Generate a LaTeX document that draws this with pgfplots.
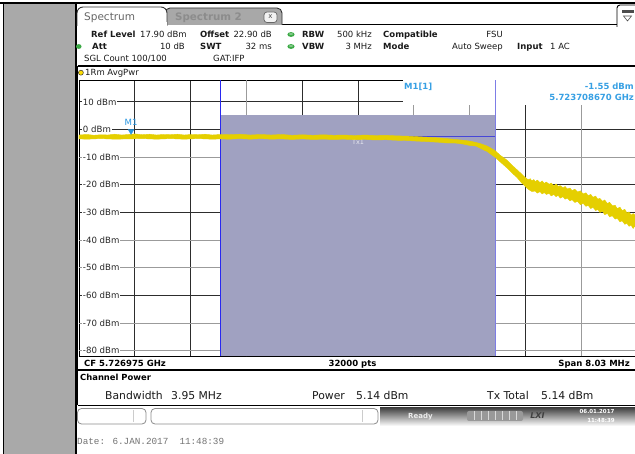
\documentclass[border=0pt]{standalone}
\usepackage{pgfplots}
\pgfplotsset{compat=1.18}
\usepackage{fontspec}
\setmainfont{DejaVu Sans}
\newfontfamily\monof{Liberation Mono}
\definecolor{panelgray}{RGB}{169,169,169}
\definecolor{tabgray}{RGB}{168,168,168}
\definecolor{chanfill}{RGB}{160,161,193}
\definecolor{traceyel}{RGB}{229,207,0}
\definecolor{mkblue}{RGB}{40,150,225}
\definecolor{txtblue}{RGB}{55,160,228}
\definecolor{chanblueL}{RGB}{40,40,240}
\definecolor{chanblueR}{RGB}{125,125,230}
\definecolor{chanblueH}{RGB}{70,70,215}
\definecolor{gridd}{RGB}{45,45,45}
\definecolor{gridl}{RGB}{155,155,155}
\definecolor{hdrtxt}{RGB}{26,26,26}
\definecolor{dotgreen}{RGB}{60,170,70}
\newcommand{\hs}{\fontsize{8.5}{10}\selectfont}
\newcommand{\lab}{\fontsize{8.6}{10}\selectfont}
\begin{document}
\begin{tikzpicture}
\begin{scope}[x=1pt,y=-1pt]
  \fill[white] (0,0) rectangle (635,454);
  \fill[panelgray] (4,4) rectangle (75.5,454);
  \draw[black,line width=1.2pt] (3.6,3) -- (3.6,454);
  \draw[black,line width=1.5pt] (0,3) -- (635,3);
  \draw[black,line width=1.6pt] (76.2,3) -- (76.2,454);
  % tabs
  \draw[line width=1.2pt,black] (165,24.8) -- (617,24.8);
  \filldraw[fill=tabgray,draw=black!80,line width=0.9pt,rounded corners=5pt] (165,25) -- (165,8) -- (282,8) -- (282,25);
  \filldraw[fill=white,draw=black!80,line width=0.9pt,rounded corners=6pt] (77,26) -- (77,7) -- (167,7) -- (167,26);
  \fill[white] (77.5,22) rectangle (166.5,27);
  \node[anchor=base west,inner sep=0,text=black!60] at (84,20.4) {\fontsize{10.5}{12}\selectfont Spectrum};
  \node[anchor=base west,inner sep=0,text=black!45] at (175,20.4) {\fontsize{10.3}{12}\selectfont\bfseries Spectrum 2};
  \filldraw[fill=white!90!gray,draw=black!60,line width=0.7pt,rounded corners=3pt] (264,12) rectangle (277,22.5);
  \node[inner sep=0,text=black!70] at (270.5,16.8) {\fontsize{7}{8}\selectfont x};
  % top right icon
  \filldraw[fill=white,draw=black,line width=0.9pt,rounded corners=3pt] (617,27) -- (617,5) -- (640,5) -- (640,27);
  \fill[black!70] (622,10) rectangle (634,13);
  \draw[black!70,line width=0.6pt] (623.5,16) -- (631.5,16) -- (627.5,21) -- cycle;
  % header rows
  \begin{scope}[every node/.style={anchor=base west,inner sep=0,text=hdrtxt}]
  \node at (91,37.6) {\hs\bfseries Ref Level};
  \node at (140,37.6) {\hs 17.90 dBm};
  \node at (200,37.6) {\hs\bfseries Offset};
  \node[anchor=base east] at (272,37.6) {\hs 22.90 dB};
  \node at (302,37.6) {\hs\bfseries RBW};
  \node[anchor=base east] at (372,37.6) {\hs 500 kHz};
  \node at (383,37.6) {\hs\bfseries Compatible};
  \node[anchor=base east] at (503,37.6) {\hs FSU};
  \node at (92,49.6) {\hs\bfseries Att};
  \node[anchor=base east] at (185,49.6) {\hs 10 dB};
  \node at (200,49.6) {\hs\bfseries SWT};
  \node[anchor=base east] at (272,49.6) {\hs 32 ms};
  \node at (302,49.6) {\hs\bfseries VBW};
  \node[anchor=base east] at (372,49.6) {\hs 3 MHz};
  \node at (383,49.6) {\hs\bfseries Mode};
  \node[anchor=base east] at (503,49.6) {\hs Auto Sweep};
  \node at (517,49.6) {\hs\bfseries Input};
  \node at (550,49.6) {\hs 1 AC};
  \node at (84,61.6) {\hs SGL Count 100/100};
  \node at (213,61.6) {\hs GAT:IFP};
  \node at (85,75.8) {\hs 1Rm AvgPwr};
  \end{scope}
  \fill[dotgreen] (291,34.5) ellipse (3.6 and 2.4);
  \fill[dotgreen] (291,46.5) ellipse (3.6 and 2.4);
  \fill[dotgreen] (78.8,46.5) ellipse (2.8 and 2.4);
  \fill[white,opacity=0.35] (291,34) ellipse (2 and 1);
  \fill[white,opacity=0.35] (291,46) ellipse (2 and 1);
  % trace window
  \draw[black,line width=1.3pt] (77.5,66) -- (640,66);
  \draw[black,line width=1pt] (77.8,66) -- (77.8,405.5);
  \draw[black!80,fill=yellow!80!orange,line width=0.5pt] (80.9,72.7) circle (2.5);
  \draw[black,line width=1.5pt] (77.5,370) -- (640,370);
  \draw[black,line width=1.5pt] (77.5,405.5) -- (640,405.5);
  % CF row
  \node[anchor=base west,inner sep=0] at (84,366.4) {\hs\bfseries CF 5.726975 GHz};
  \node[anchor=base,inner sep=0] at (352.5,366.4) {\hs\bfseries 32000 pts};
  \node[anchor=base east,inner sep=0] at (630,366.4) {\hs\bfseries Span 8.03 MHz};
  % channel power
  \node[anchor=base west,inner sep=0] at (80,380.8) {\fontsize{8.4}{10}\selectfont\bfseries Channel Power};
  \begin{scope}[every node/.style={anchor=base west,inner sep=0,text=hdrtxt}]
  \node at (105,399.8) {\fontsize{10.8}{12}\selectfont Bandwidth};
  \node at (171,399.8) {\fontsize{10.8}{12}\selectfont 3.95 MHz};
  \node at (312,399.8) {\fontsize{10.8}{12}\selectfont Power};
  \node at (356,399.8) {\fontsize{10.8}{12}\selectfont 5.14 dBm};
  \node at (487,399.8) {\fontsize{10.8}{12}\selectfont Tx Total};
  \node at (541,399.8) {\fontsize{10.8}{12}\selectfont 5.14 dBm};
  \end{scope}
  % status bar
  \shade[top color=black!75,bottom color=white] (380,407.5) rectangle (635,426);
  \filldraw[fill=white,draw=black!45,line width=0.8pt,rounded corners=4pt] (77.5,408.5) rectangle (146,424);
  \draw[black!20] (133,410) -- (133,422);
  \filldraw[fill=white,draw=black!45,line width=0.8pt,rounded corners=4pt] (151,408.5) rectangle (378,424);
  \draw[black!20] (362,410) -- (362,422);
  \node[anchor=base west,inner sep=0,text=white!85!gray] at (408,419) {\fontsize{7}{8}\selectfont\bfseries Ready};
  \fill[black!40,rounded corners=2pt] (467,411) rectangle (523,421);
  \foreach \xx in {474,481,488,495,502,509,516} {\draw[white!70!gray,line width=0.6pt] (\xx,411.5) -- (\xx,420.5);}
  \node[inner sep=0,text=black!75] at (537.5,416) {\fontsize{8}{9}\selectfont\bfseries\itshape LXI};
  \node[inner sep=0,text=white] at (597,411.5) {\fontsize{5.5}{6}\selectfont\bfseries 06.01.2017};
  \node[inner sep=0,text=white] at (601,420) {\fontsize{5.5}{6}\selectfont\bfseries 11:48:39};
  % date line
  \node[anchor=base west,inner sep=0,text=black!55] at (77,444.7) {\fontsize{9.3}{11}\selectfont\monof Date: 6.JAN.2017\ \ 11:48:39};
\end{scope}

\begin{axis}[at={(79pt,-356.5pt)}, anchor=south west, scale only axis,
  width=558pt, height=276.5pt,
  xmin=-4.015, xmax=4.015, ymin=-82.1, ymax=17.9,
  axis line style={black,line width=0.9pt},
  xtick={-3.212,-2.409,-0.803,0,2.409}, ytick={10,0,-20,-30,-60},
  extra x ticks={-1.606,0.803,1.606,3.212}, extra y ticks={-10,-40,-50,-70,-80},
  xticklabels={}, yticklabels={}, extra x tick labels={}, extra y tick labels={},
  major tick length=0pt, grid=major,
  major grid style={draw=gridd,line width=0.8pt},
  extra tick style={grid=major, major grid style={draw=gridl,line width=0.9pt}},
]
% level labels
\pgfplotsinvokeforeach{10,0,-10,-20,-30,-40,-50,-60,-70,-80}{
  \node[anchor=west,fill=white,inner xsep=1pt,inner ysep=0.3pt,text=black!85] at (axis cs:-3.975,#1) {\lab #1 dBm};
}
% channel bandwidth area
\addplot[fill=chanfill,draw=none] coordinates {(-1.975,-82.1) (-1.975,5.14) (1.975,5.14) (1.975,-82.1)} -- cycle;
% marker info area
\fill[white] (axis cs:0.647,9.0) rectangle (axis cs:4.2,18);
\addplot[chanblueL,line width=1pt] coordinates {(-1.975,-82.1) (-1.975,17.9)};
\addplot[chanblueR,line width=1pt] coordinates {(1.975,-82.1) (1.975,17.9)};
\addplot[chanblueH,line width=0.9pt] coordinates {(-1.975,-2.34) (1.975,-2.34)};
\node[text=white!75!chanfill] at (axis cs:0.0,-4.6) {\fontsize{6.5}{7}\selectfont Tx1};
% trace (noise envelope: upper edge left to right, lower edge right to left)
\addplot[fill=traceyel,draw=traceyel,line width=0.4pt] coordinates {
(-4.015,-2.0) (-3.90,-1.8) (-3.80,-2.1) (-3.70,-1.9) (-3.60,-2.0) (-3.50,-1.7)
(-3.40,-2.0) (-3.30,-1.8) (-3.209,-1.6) (-3.10,-1.9) (-3.00,-1.7) (-2.90,-2.0)
(-2.80,-1.8) (-2.70,-1.9) (-2.60,-1.7) (-2.50,-2.0) (-2.40,-1.8) (-2.30,-1.9)
(-2.20,-1.7) (-2.10,-2.0) (-1.971,-1.8) (-1.85,-1.9) (-1.70,-1.7) (-1.55,-2.0)
(-1.40,-1.8) (-1.25,-2.0) (-1.10,-1.8) (-0.95,-2.1) (-0.80,-1.9) (-0.65,-2.1)
(-0.50,-1.9) (-0.35,-2.1) (-0.20,-2.0) (-0.05,-2.2) (0.10,-2.0) (0.25,-2.2)
(0.40,-2.1) (0.55,-2.3) (0.70,-2.4) (0.85,-2.6) (1.00,-2.8) (1.15,-3.0)
(1.28,-3.3) (1.40,-3.6) (1.52,-3.9) (1.61,-4.2) (1.70,-4.7) (1.76,-5.1)
(1.86,-6.0) (1.97,-7.6) (2.05,-9.4) (2.14,-11.0) (2.22,-13.0) (2.29,-14.6)
(2.35,-16.0) (2.40,-17.2) (2.45,-18.2) (2.48,-17.8) (2.50,-18.6) (2.53,-18.1)
(2.55,-18.9) (2.58,-18.3) (2.62,-19.2) (2.65,-18.6) (2.68,-19.5) (2.71,-19.0)
(2.75,-19.8) (2.78,-19.4) (2.82,-20.4) (2.85,-19.7) (2.88,-20.6) (2.91,-20.3)
(2.95,-21.1) (2.98,-20.6) (3.01,-21.5) (3.05,-21.2) (3.08,-22.1) (3.12,-21.6)
(3.16,-22.6) (3.20,-22.2) (3.24,-23.3) (3.28,-22.9) (3.31,-23.9) (3.35,-23.5)
(3.38,-24.5) (3.42,-24.1) (3.45,-25.2) (3.48,-24.9) (3.52,-26.0) (3.55,-25.5)
(3.59,-26.8) (3.62,-26.3) (3.66,-27.6) (3.70,-27.4) (3.73,-28.6) (3.77,-28.1)
(3.80,-29.3) (3.84,-28.9) (3.87,-30.2) (3.90,-29.8) (3.93,-31.0) (3.96,-30.4)
(4.015,-31.5)
(4.015,-35.9) (3.98,-35.0) (3.96,-35.8) (3.93,-34.6) (3.90,-35.0) (3.87,-33.9)
(3.84,-34.3) (3.80,-33.0) (3.77,-33.4) (3.73,-32.1) (3.70,-32.4) (3.66,-31.2)
(3.62,-31.6) (3.59,-30.4) (3.55,-30.8) (3.52,-29.6) (3.48,-30.0) (3.45,-28.9)
(3.42,-29.3) (3.38,-28.1) (3.35,-28.6) (3.31,-27.4) (3.28,-27.8) (3.24,-26.7)
(3.20,-27.2) (3.16,-26.0) (3.12,-26.4) (3.08,-25.4) (3.05,-25.8) (3.01,-24.8)
(2.98,-25.2) (2.95,-24.3) (2.91,-24.8) (2.88,-23.8) (2.85,-24.3) (2.82,-23.5)
(2.78,-24.0) (2.75,-23.1) (2.71,-23.5) (2.68,-22.8) (2.65,-23.3) (2.62,-22.5)
(2.58,-23.0) (2.55,-22.3) (2.50,-22.4) (2.45,-21.6)
(2.40,-20.4) (2.35,-19.2) (2.29,-17.4) (2.22,-15.8) (2.14,-13.8) (2.05,-11.8)
(1.97,-10.0) (1.86,-8.0) (1.76,-6.8) (1.70,-6.0) (1.61,-5.8) (1.52,-5.3)
(1.40,-4.9) (1.28,-4.9) (1.15,-4.6) (1.00,-4.4) (0.85,-4.2) (0.70,-4.0)
(0.55,-3.9) (0.40,-3.7) (0.25,-3.8) (0.10,-3.6) (-0.05,-3.7) (-0.20,-3.5)
(-0.35,-3.6) (-0.50,-3.5) (-0.65,-3.6) (-0.80,-3.4) (-0.95,-3.6) (-1.10,-3.4)
(-1.25,-3.5) (-1.40,-3.3) (-1.55,-3.5) (-1.70,-3.3) (-1.85,-3.5) (-1.971,-3.4)
(-2.10,-3.5) (-2.30,-3.3) (-2.50,-3.5) (-2.70,-3.3) (-2.90,-3.5) (-3.10,-3.3)
(-3.30,-3.4) (-3.50,-3.5) (-3.70,-3.3) (-3.90,-3.5) (-4.015,-3.4)
} -- cycle;
% marker M1
\addplot[only marks,mark=triangle*,mark size=3.3pt,mark options={rotate=180,fill=mkblue,draw=mkblue}] coordinates {(-3.266,-0.6)};
\node[text=mkblue] at (axis cs:-3.266,2.6) {\fontsize{8.6}{10}\selectfont M1};
\end{axis}

\begin{scope}[x=1pt,y=-1pt]
  \node[anchor=base west,inner sep=0,text=txtblue] at (404,89.1) {\hs\bfseries M1[1]};
  \node[anchor=base east,inner sep=0,text=txtblue] at (634,89.1) {\hs\bfseries -1.55 dBm};
  \node[anchor=base east,inner sep=0,text=txtblue] at (634,100.8) {\hs\bfseries 5.723708670 GHz};
  \pgfresetboundingbox
  \path[use as bounding box] (0,0) rectangle (635,454);
\end{scope}
\end{tikzpicture}
\end{document}
